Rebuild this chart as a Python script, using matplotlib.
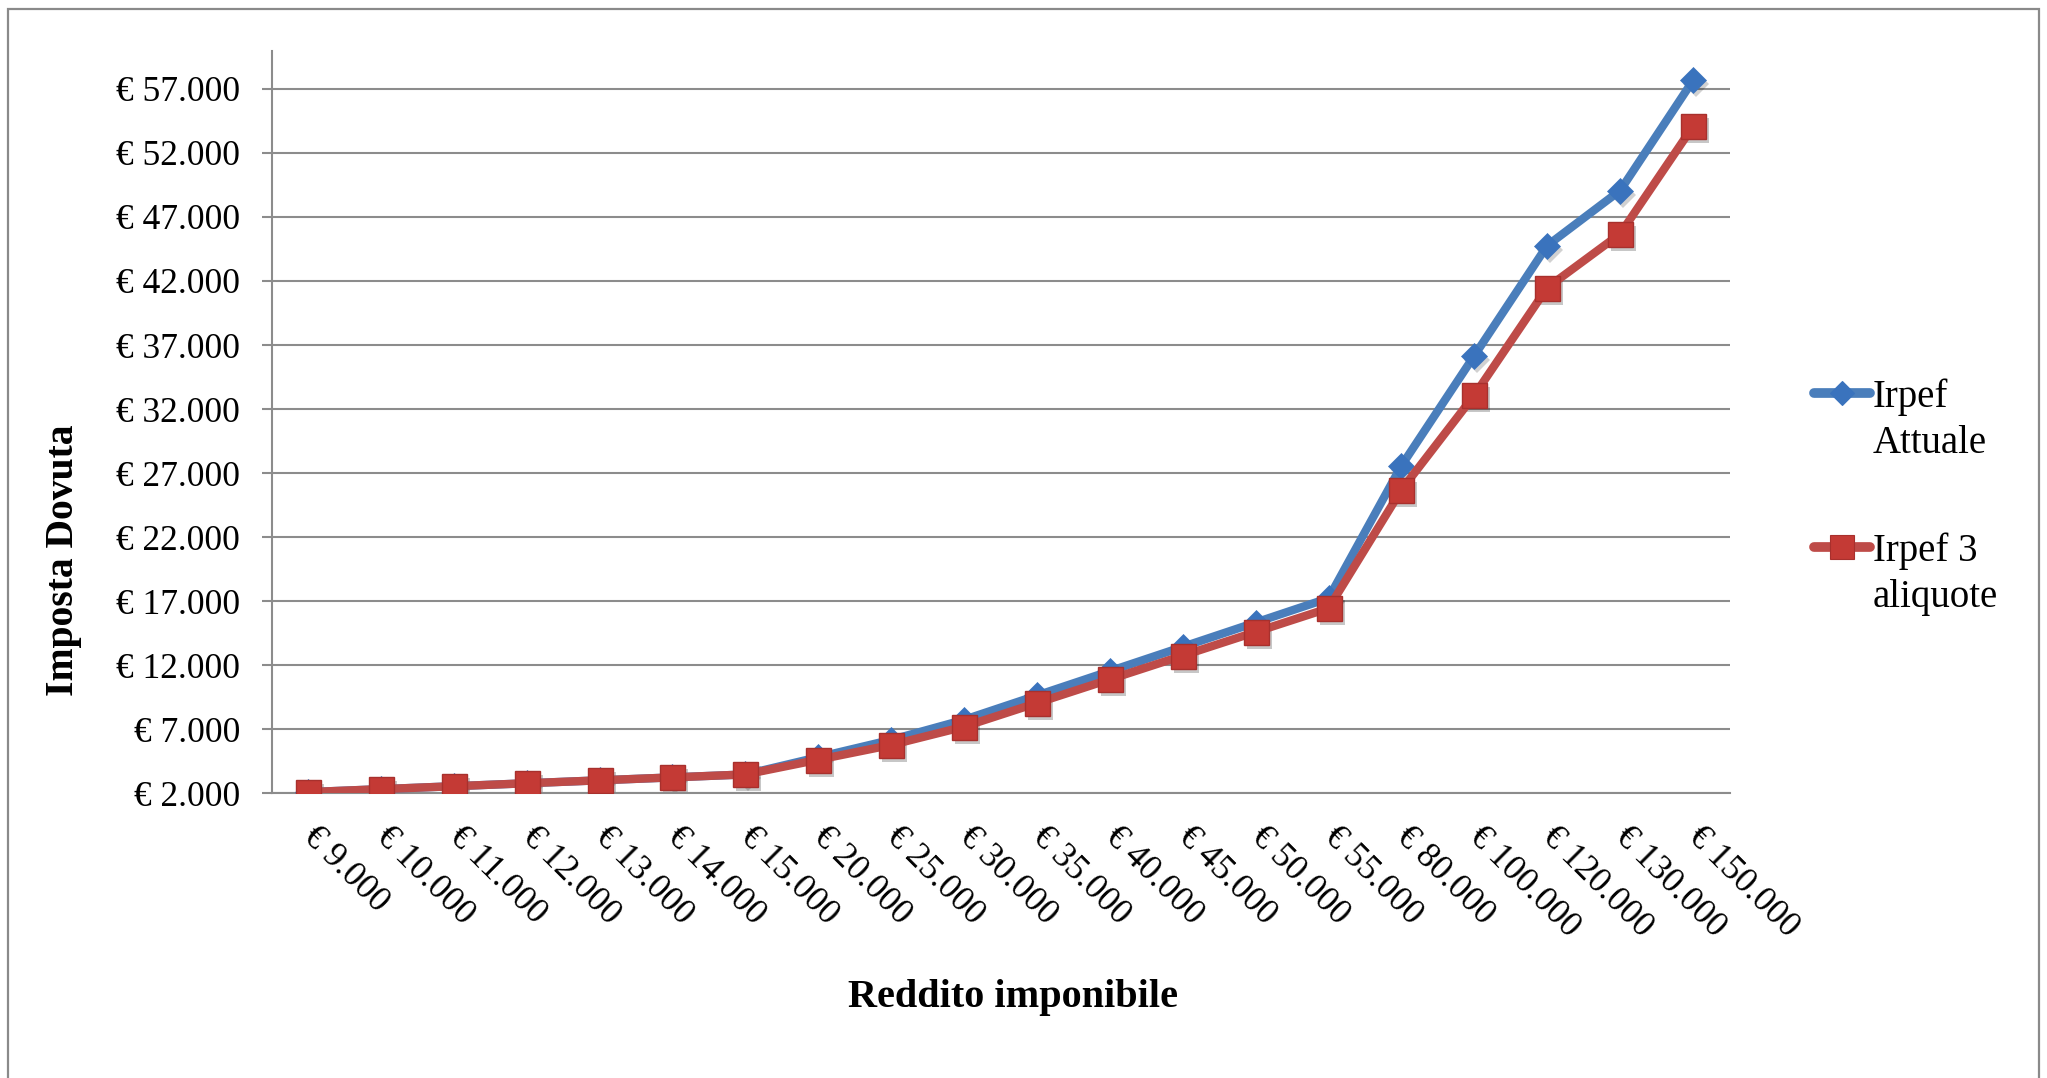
import matplotlib
matplotlib.use("Agg")
import matplotlib.pyplot as plt
from matplotlib.lines import Line2D
from matplotlib.patches import Rectangle
from matplotlib.ticker import FixedLocator, FuncFormatter
from matplotlib.transforms import offset_copy

# redditi imponibili (categorie asse x)
redditi = [9000, 10000, 11000, 12000, 13000, 14000, 15000, 20000, 25000, 30000,
           35000, 40000, 45000, 50000, 55000, 80000, 100000, 120000, 130000, 150000]

# imposta dovuta per le due ipotesi
irpef_attuale = [2070, 2300, 2530, 2760, 2990, 3220, 3450, 4800, 6150, 7720,
                 9620, 11520, 13420, 15320, 17220, 27570, 36170, 44770, 49070, 57670]
irpef_3_aliquote = [2070, 2300, 2530, 2760, 2990, 3220, 3450, 4600, 5750, 7180,
                    9030, 10880, 12730, 14580, 16430, 25680, 33080, 41480, 45680, 54080]

y_ticks = list(range(2000, 57001, 5000))

serif = ["Liberation Serif", "DejaVu Serif"]
plt.rcParams["font.family"] = serif

W, H = 2047, 1078
fig = plt.figure(figsize=(W / 100, H / 100), dpi=100)
fig.patch.set_facecolor("white")

ax = fig.add_axes([271.5 / W, 1 - 793 / H, 1458 / W, (793 - 50.6) / H])

grid_col = "#8c8c8c"
blue_line, blue_mark = "#4A7EBB", "#3A73BD"
red_line, red_mark, red_edge = "#BE4B48", "#C43A35", "#A8302D"

x = list(range(len(redditi)))

# ombra sotto i marker
shadow = offset_copy(ax.transData, fig=fig, x=3, y=-4, units="dots")
ax.plot(x, irpef_attuale, ls="none", marker="D", ms=13.5, color="black",
        alpha=0.18, mew=0, transform=shadow, zorder=2)
ax.plot(x, irpef_3_aliquote, ls="none", marker="s", ms=18, color="black",
        alpha=0.22, mew=0, transform=shadow, zorder=2)

ax.plot(x, irpef_attuale, color=blue_line, lw=6, marker="D", ms=13.5,
        mfc=blue_mark, mec=blue_mark, mew=0.5, zorder=3)
ax.plot(x, irpef_3_aliquote, color=red_line, lw=6, marker="s", ms=18,
        mfc=red_mark, mec=red_edge, mew=1.0, zorder=4)

ax.set_xlim(-0.5, len(redditi) - 0.5)
ax.set_ylim(2000, 60000)

ax.yaxis.set_major_locator(FixedLocator(y_ticks))
ax.yaxis.set_major_formatter(
    FuncFormatter(lambda v, p: "€ " + f"{v:,.0f}".replace(",", ".")))
ax.set_xticks(x)
ax.set_xticklabels(["€ " + f"{r:,}".replace(",", ".") for r in redditi])

ax.yaxis.grid(True, color=grid_col, lw=1.5)
ax.set_axisbelow(True)

for side in ("top", "right"):
    ax.spines[side].set_visible(False)
for side in ("left", "bottom"):
    ax.spines[side].set_color(grid_col)
    ax.spines[side].set_linewidth(1.5)

ax.tick_params(axis="y", direction="out", length=7.2, width=1.5, color=grid_col,
               pad=15.5, labelsize=25.5, labelcolor="black")
ax.tick_params(axis="x", length=0, pad=28, labelsize=25.5, labelcolor="black")
plt.setp(ax.get_xticklabels(), rotation=-45, ha="left", va="center",
         rotation_mode="anchor")

fig.text(64 / W, 1 - 560 / H, "Imposta Dovuta", rotation=90, ha="center",
         va="center", fontsize=28.5, fontweight="bold")
fig.text(1012.5 / W, 1 - 1007 / H, "Reddito imponibile", ha="center",
         va="baseline", fontsize=29, fontweight="bold")

# legenda disegnata a mano
def legend_entry(y_px, color, mfc, mec, marker, ms, label, ty_px):
    y = 1 - y_px / H
    fig.add_artist(Line2D([1814 / W, 1870 / W], [y, y], transform=fig.transFigure,
                          color=color, lw=7, solid_capstyle="round"))
    fig.add_artist(Line2D([1842 / W], [y], transform=fig.transFigure, ls="none",
                          marker=marker, ms=ms, mfc=mfc, mec=mec, mew=0.8))
    fig.text(1873 / W, 1 - ty_px / H, label, ha="left", va="top", fontsize=28,
             linespacing=1.32)

legend_entry(393, blue_line, blue_mark, blue_mark, "D", 12, "Irpef\nAttuale", 378)
legend_entry(547, red_line, red_mark, red_edge, "s", 17, "Irpef 3\naliquote", 532)

# cornice dell'area grafico
fig.add_artist(Rectangle((8 / W, -0.05), (2039 - 8) / W, 1.05 - 9 / H,
                         transform=fig.transFigure, fill=False,
                         edgecolor="#8a8a8a", lw=1.6))

fig.savefig("out.png", dpi=100, facecolor="white")
